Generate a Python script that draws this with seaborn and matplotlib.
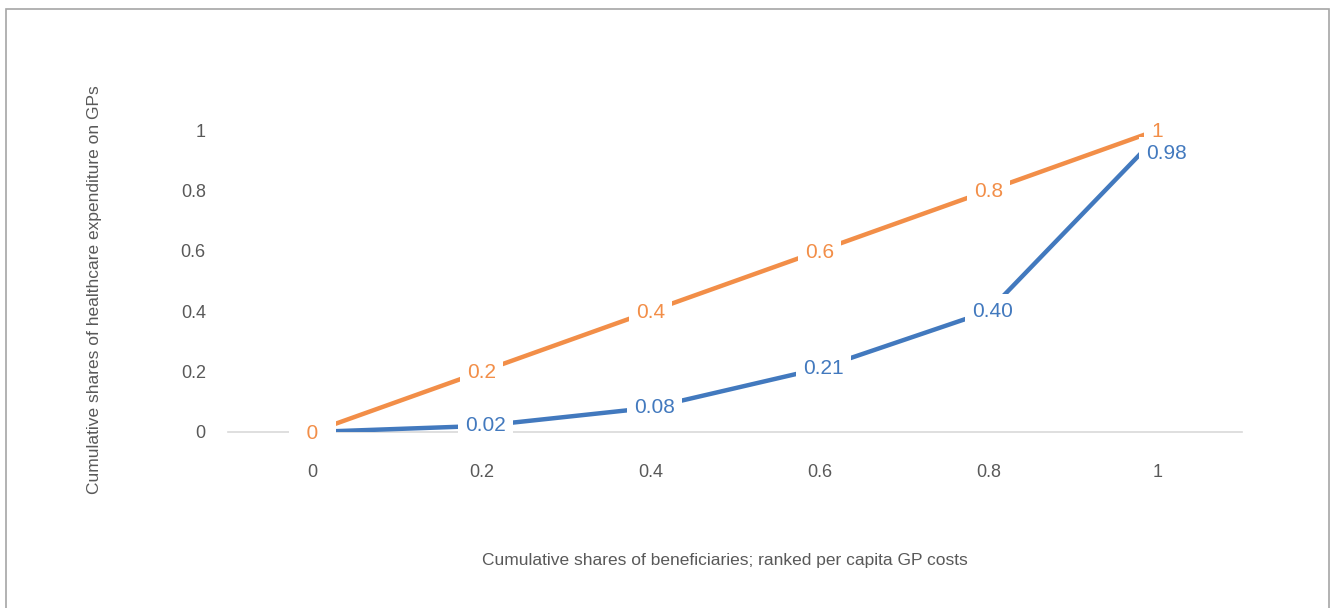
import matplotlib
matplotlib.use("Agg")
import matplotlib.pyplot as plt
from matplotlib import font_manager
from matplotlib.patches import Rectangle
import seaborn as sns
import pandas as pd

# Lorenz-style concentration of GP spending
shares_beneficiaries = [0, 0.2, 0.4, 0.6, 0.8, 1]
tick_labels = ["0", "0.2", "0.4", "0.6", "0.8", "1"]
equality_line = [0, 0.2, 0.4, 0.6, 0.8, 1]
gp_expenditure = [0, 0.02, 0.08, 0.21, 0.40, 0.98]
equality_labels = ["0", "0.2", "0.4", "0.6", "0.8", "1"]
expenditure_labels = ["0", "0.02", "0.08", "0.21", "0.40", "0.98"]

ORANGE = "#F28E48"
BLUE = "#4279BE"
GREY_TEXT = "#595959"

sns.set_theme(style="white")
installed = {f.name for f in font_manager.fontManager.ttflist}
family = "Liberation Sans Narrow" if "Liberation Sans Narrow" in installed else "Liberation Sans"
plt.rcParams["font.family"] = [family, "DejaVu Sans"]

df = pd.DataFrame({
    "x": shares_beneficiaries * 2,
    "y": equality_line + gp_expenditure,
    "series": ["equality"] * 6 + ["gp"] * 6,
})

fig = plt.figure(figsize=(13.35, 6.08), dpi=100)
ax = fig.add_axes([0.1708, 0.2895, 0.7596, 0.596])

sns.lineplot(data=df, x="x", y="y", hue="series",
             palette={"equality": ORANGE, "gp": BLUE},
             hue_order=["gp", "equality"],
             linewidth=3.2, legend=False, ax=ax, zorder=2)

ax.set_xlim(-0.1, 1.1)
ax.set_ylim(0, 1.2)
ax.set_xticks(shares_beneficiaries)
ax.set_xticklabels(tick_labels)
ax.set_yticks(equality_line)
ax.set_yticklabels(tick_labels)
ax.tick_params(axis="x", length=0, pad=23, labelsize=13, labelcolor=GREY_TEXT)
ax.tick_params(axis="y", length=0, pad=16, labelsize=13, labelcolor=GREY_TEXT)
ax.set_xlabel("")
ax.set_ylabel("")
for side in ["top", "right", "left"]:
    ax.spines[side].set_visible(False)
ax.spines["bottom"].set_color("#D9D9D9")
ax.spines["bottom"].set_linewidth(1.2)
ax.spines["bottom"].set_zorder(1)

label_box = dict(boxstyle="square,pad=0.35", fc="white", ec="none")

# data labels for the unequal distribution (its origin label is hidden by the equality one)
last = len(gp_expenditure) - 1
for i, (x, y, lab) in enumerate(zip(shares_beneficiaries, gp_expenditure, expenditure_labels)):
    if i == 0:
        continue
    offset = (6.5, -12.5) if i == last else (3, 0)
    ax.annotate(lab, (x, y), xytext=offset, textcoords="offset points",
                ha="center", va="center", fontsize=15, color=BLUE,
                bbox=label_box, zorder=7 if i == last else 5)

# data labels for the line of equality; the origin label gets a wider blank area
for x, y, lab in zip(shares_beneficiaries, equality_line, equality_labels):
    text = f"  {lab}  " if lab == "0" else lab
    style = "square,pad=0.3" if lab == "0" else "square,pad=0.35"
    ax.annotate(text, (x, y), xytext=(0, -1), textcoords="offset points",
                ha="center", va="center", fontsize=15, color=ORANGE,
                bbox=dict(boxstyle=style, fc="white", ec="none"), zorder=6)

fig.text(724.5 / 1335, 1 - 560 / 608,
         "Cumulative shares of beneficiaries; ranked per capita GP costs",
         ha="center", va="center", fontsize=12.5, color=GREY_TEXT)
fig.text(95 / 1335, 1 - 290 / 608,
         "Cumulative shares of healthcare expenditure on GPs",
         ha="center", va="center", rotation=90, fontsize=12.5, color=GREY_TEXT)

# chart frame
fig.patches.append(Rectangle((6 / 1335, -0.05), 1323 / 1335, 1 - 9 / 608 + 0.05,
                             transform=fig.transFigure, fill=False,
                             ec="#A6A6A6", lw=1.2))

fig.savefig("out.png", dpi=100)
